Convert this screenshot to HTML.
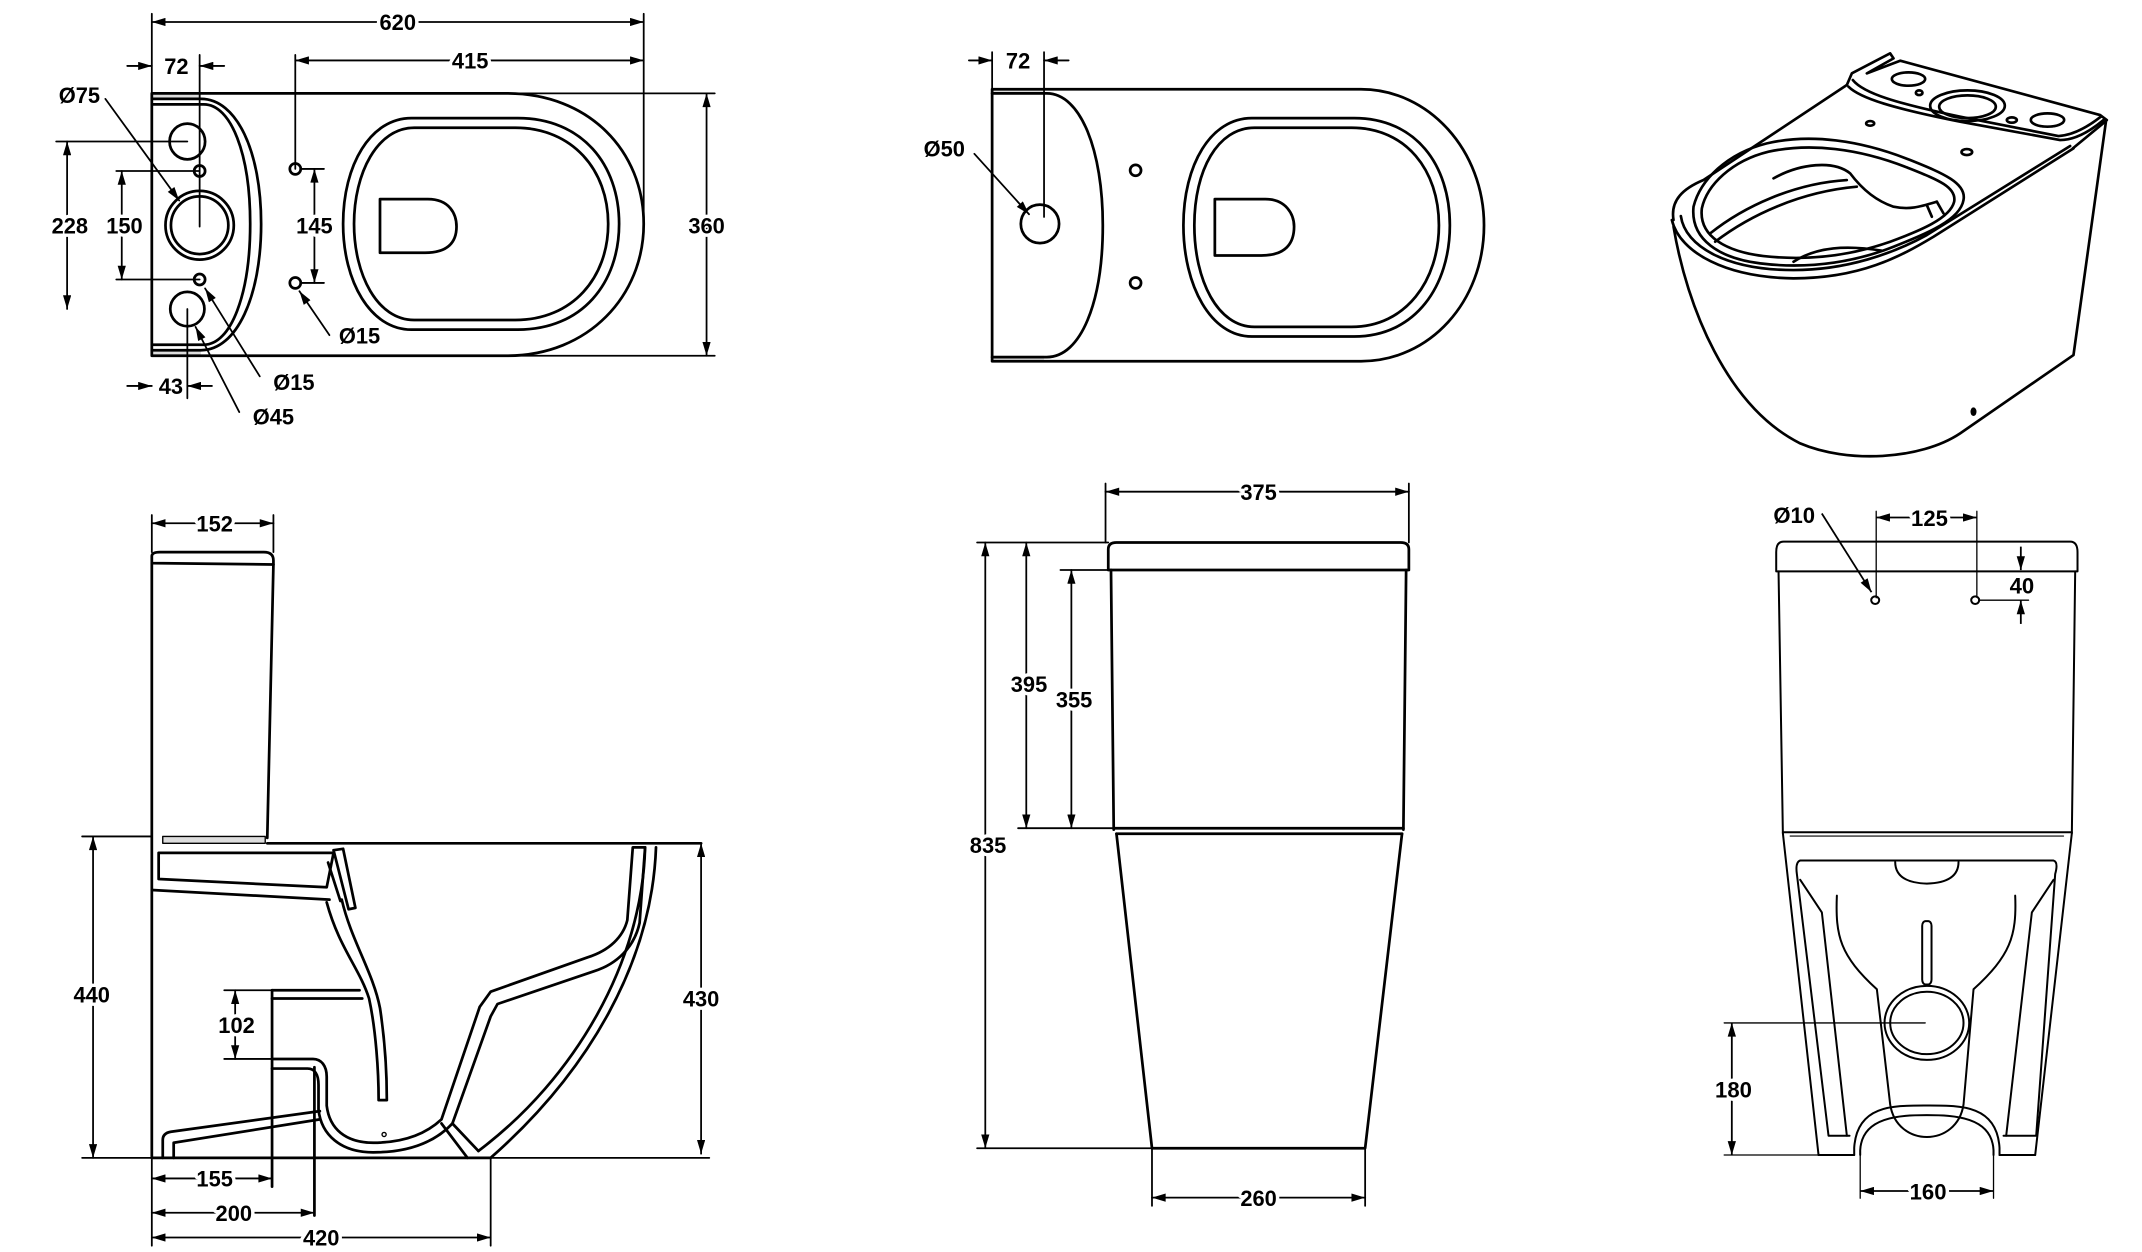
<!DOCTYPE html>
<html><head><meta charset="utf-8">
<style>
html,body{margin:0;padding:0;background:#fff;}
svg{display:block;}
text{font-family:"Liberation Sans",Arial,sans-serif;font-weight:bold;fill:#000;text-anchor:middle;paint-order:stroke;stroke:#fff;stroke-width:5px;stroke-linejoin:round;}
</style></head>
<body>
<svg width="2142" height="1252" viewBox="0 0 1552 907" preserveAspectRatio="none" xmlns="http://www.w3.org/2000/svg">
<defs>
<marker id="a" viewBox="0 0 10 6" refX="10" refY="3" markerWidth="11" markerHeight="6" markerUnits="userSpaceOnUse" orient="auto-start-reverse"><path d="M0,0 L10,3 L0,6 Z" fill="#000"/></marker>
</defs>
<rect width="1552" height="907" fill="#fff"/>

<g transform="translate(1.1,0) scale(0.99,0.995)" fill="none" stroke="#000" stroke-width="2" stroke-linejoin="round" stroke-linecap="round">
<rect x="110" y="68" width="36" height="4" fill="#ddd" stroke="none"/>
<rect x="110" y="255" width="36" height="4" fill="#ddd" stroke="none"/>
<path d="M110,68 H370 C430,68 470,110 470,163 C470,215 430,259 370,259 H110 Z"/>
<path d="M110,72 H146 C172,72 190,110 190,163 C190,216 172,255 146,255 H110"/>
<path d="M110,76 H148 C168,76 182,112 182,163 C182,214 168,251 148,251 H110"/>
<circle cx="136" cy="103" r="13"/>
<circle cx="136" cy="225" r="12.5"/>
<circle cx="145" cy="164" r="25"/>
<circle cx="145" cy="164" r="21"/>
<circle cx="145" cy="124.5" r="4"/>
<circle cx="145" cy="203.5" r="4"/>
<circle cx="215" cy="123" r="4"/>
<circle cx="215" cy="206" r="4"/>
<path d="M300,86 H378 C425,86 452,120 452,163 C452,206 425,240 378,240 H300 C270,240 250,205 250,163 C250,120 270,86 300,86 Z"/>
<path d="M302,93 H376 C418,93 444,124 444,163 C444,202 418,233 376,233 H302 C275,233 258,200 258,163 C258,126 275,93 302,93 Z"/>
<path d="M277,145 H312 C328,145 333,156 333,165 C333,176 327,184 310,184 H277 Z"/>
<g stroke-width="1.3">
<path d="M110,10 V68 M470,10 V160 M215,40 V123 M145,40 V165 M136,225 V290"/>
<path d="M110,16 H470" marker-start="url(#a)" marker-end="url(#a)"/>
<path d="M215,44 H470" marker-start="url(#a)" marker-end="url(#a)"/>
<path d="M92,48 H110" marker-end="url(#a)"/><path d="M163,48 H145" marker-end="url(#a)"/>
<path d="M370,68 H522 M370,259 H522"/>
<path d="M516,68 V259" marker-start="url(#a)" marker-end="url(#a)"/>
<path d="M40,103 H136 M84,124.5 H145 M84,203.5 H145 M219,123 H236 M219,206 H236"/>
<path d="M48,103 V225" marker-start="url(#a)" marker-end="url(#a)"/>
<path d="M88,124.5 V203.5" marker-start="url(#a)" marker-end="url(#a)"/>
<path d="M229,123 V206" marker-start="url(#a)" marker-end="url(#a)"/>
<path d="M92,281 H110" marker-end="url(#a)"/><path d="M154,281 H136" marker-end="url(#a)"/>
<path d="M76,72 L130,146" marker-end="url(#a)"/>
<path d="M189,274 L149,210" marker-end="url(#a)"/>
<path d="M174,300 L142,238" marker-end="url(#a)"/>
<path d="M240,244 L218,212" marker-end="url(#a)"/>
</g>

<rect x="725" y="65" width="38" height="4" fill="#ddd" stroke="none"/>
<rect x="725" y="259" width="38" height="4" fill="#ddd" stroke="none"/>
<path d="M725,65 H995 C1045,65 1085,110 1085,164 C1085,220 1045,263 995,263 H725 Z"/>
<path d="M725,68 H765 C790,68 806,110 806,164 C806,220 790,260 765,260 H725"/>
<circle cx="760" cy="163" r="14"/>
<circle cx="830" cy="124" r="4"/>
<circle cx="830" cy="206" r="4"/>
<path d="M915,86 H990 C1035,86 1060,120 1060,164 C1060,208 1035,245 990,245 H915 C885,245 865,208 865,164 C865,120 885,86 915,86 Z"/>
<path d="M917,93 H988 C1028,93 1052,124 1052,164 C1052,204 1028,238 988,238 H917 C890,238 873,204 873,164 C873,124 890,93 917,93 Z"/>
<path d="M888,145 H925 C940,145 946,156 946,165 C946,177 940,186 922,186 H888 Z"/>
<g stroke-width="1.3">
<path d="M725,38 V65 M763,38 V158"/>
<path d="M708,44 H725" marker-end="url(#a)"/><path d="M781,44 H763" marker-end="url(#a)"/>
<path d="M712,112 L752,156" marker-end="url(#a)"/>
</g>

<path d="M110,410 V405 Q110,402 116,402 H192 Q199,402 199,408 V411 Z"/>
<path d="M110,410 V843 M199,411 L194.5,610"/>
<rect x="118" y="609" width="75" height="5" fill="#ddd" stroke="#000" stroke-width="1"/>
<path d="M194.5,614 H512"/>
<path d="M115,621 H243 L238,646 L115,640 Z"/>
<path d="M110,648 L240,655"/>
<path d="M243,619 L250,618 L259,661 L254,662 Z"/>
<path d="M239,628 L248,656"/>
<path d="M238,657 C247,690 262,705 269,727 C274,750 276,780 276,801 L282,801 C282,785 281,760 277,734 C272,708 256,685 249,655"/>
<path d="M198,721 H262 M198,727 H264"/>
<path d="M198,721 V864 M229,777 V885"/>
<path d="M479,617 C476,700 430,780 358,843"/>
<path d="M471,617 L462,617 L458,670 C455,682 445,692 429,697 L358,722 L350,733 L322,815 C308,828 290,832 272,832 C252,832 240,822 238,805 L238,784 C238,776 234,771 228,771 H198"/>
<path d="M471,617 L467,672 C463,690 450,702 434,707 L363,731 L358,740 L330,818 C314,835 292,839 272,839 C248,839 234,826 232,808 L232,790 C232,782 229,778 224,778 H198"/>
<path d="M471,617 C469,700 420,785 349,838"/>
<path d="M322,818 L341,843 M330,818 L349,838"/>
<path d="M118,843 V830 Q118,825 124,824 L233,809 M126,843 V832 L233,815"/>
<circle cx="280" cy="826" r="1.5" stroke-width="1"/>
<path d="M110,843 H358"/>
<g stroke-width="1.3">
<path d="M110,375 V402 M199,375 V402"/>
<path d="M110,381 H199" marker-start="url(#a)" marker-end="url(#a)"/>
<path d="M59,609 H110 M59,843 H110"/>
<path d="M67,609 V843" marker-start="url(#a)" marker-end="url(#a)"/>
<path d="M358,843 H518"/>
<path d="M512,614 V840" marker-start="url(#a)" marker-end="url(#a)"/>
<path d="M163,721 H198 M163,771 H198"/>
<path d="M171,721 V771" marker-start="url(#a)" marker-end="url(#a)"/>
<path d="M110,843 V907 M358,843 V907"/>
<path d="M110,858 H198" marker-start="url(#a)" marker-end="url(#a)"/>
<path d="M110,883 H229" marker-start="url(#a)" marker-end="url(#a)"/>
<path d="M110,901 H358" marker-start="url(#a)" marker-end="url(#a)"/>
</g>

<path d="M810,415 V400 Q810,395 816,395 H1024 Q1030,395 1030,400 V415 Z"/>
<path d="M812,415 L814,604 M1028,415 L1026,604"/>
<path d="M814,603 H1026"/>
<path d="M816,607 H1025"/>
<path d="M816,607 L842,836 H998 L1025,607"/>
<g stroke-width="1.3">
<path d="M808,352 V395 M1030,352 V395"/>
<path d="M808,358 H1030" marker-start="url(#a)" marker-end="url(#a)"/>
<path d="M714,395 H810 M714,836 H842 M775,415 H812 M744,603 H814"/>
<path d="M720,395 V836" marker-start="url(#a)" marker-end="url(#a)"/>
<path d="M750,395 V603" marker-start="url(#a)" marker-end="url(#a)"/>
<path d="M783,415 V603" marker-start="url(#a)" marker-end="url(#a)"/>
<path d="M842,836 V878 M998,836 V878"/>
<path d="M842,872 H998" marker-start="url(#a)" marker-end="url(#a)"/>
</g>

<g stroke="#fff" stroke-width="5" font-size="16">
<text x="290" y="22">620</text>
<text x="343" y="50">415</text>
<text x="128" y="54">72</text>
<text x="57" y="75">Ø75</text>
<text x="50" y="170">228</text>
<text x="90" y="170">150</text>
<text x="229" y="170">145</text>
<text x="516" y="170">360</text>
<text x="262" y="250">Ø15</text>
<text x="214" y="284">Ø15</text>
<text x="124" y="287">43</text>
<text x="199" y="309">Ø45</text>
<text x="744" y="50">72</text>
<text x="690" y="114">Ø50</text>
<text x="156" y="387">152</text>
<text x="66" y="730">440</text>
<text x="512" y="733">430</text>
<text x="172" y="752">102</text>
<text x="156" y="864">155</text>
<text x="170" y="889">200</text>
<text x="234" y="907">420</text>
<text x="920" y="364">375</text>
<text x="752" y="504">395</text>
<text x="785" y="515">355</text>
<text x="722" y="621">835</text>
<text x="920" y="878">260</text>
</g>
</g>

<g transform="translate(1202.9,29) scale(0.2415)" fill="none" stroke="#000" stroke-width="8" stroke-linejoin="round" stroke-linecap="round">
<path d="M40,560 C80,800 200,1100 420,1210 C560,1270 780,1260 900,1180 L1240,945 L1338,240"/>
<path d="M40,540 C30,480 70,445 130,420 L560,135"/>
<path d="M560,135 L575,100 L690,40 L700,55 L620,100 L720,62 L1320,225 L1340,240"/>
<path d="M565,140 C600,175 700,205 900,245 L1200,300 C1250,300 1300,265 1330,240"/>
<path d="M578,120 C610,160 710,190 900,230 L1195,288 C1245,285 1290,255 1322,230"/>
<path d="M1238,325 L1335,245"/>
<path d="M35,540 C60,640 200,712 400,715 C600,715 720,650 820,590 L1240,325"/>
<path d="M62,528 C75,620 200,690 400,690 C560,690 700,640 800,585 L1230,318"/>
<path d="M100,500 C120,420 200,340 320,310 C450,280 600,300 750,360 C850,400 920,430 910,480 C900,540 800,580 700,620 C600,660 460,690 300,670 C180,655 90,600 100,500 Z"/>
<path d="M125,505 C140,435 215,362 325,335 C450,308 595,325 740,382 C830,418 890,440 882,485 C870,535 780,572 690,605 C590,640 460,665 310,648 C200,635 115,590 125,505 Z"/>
<path d="M340,415 C420,370 520,360 570,400 C600,440 640,480 700,500 C750,510 780,500 830,485"/>
<path d="M150,580 C250,500 400,430 560,420 M165,605 C270,525 420,455 590,440"/>
<path d="M400,665 C470,620 560,615 665,632"/>
<path d="M800,495 L815,530 M830,485 L850,520"/>
<ellipse cx="745" cy="117" rx="50" ry="20"/>
<ellipse cx="777" cy="158" rx="10" ry="7"/>
<ellipse cx="922" cy="197" rx="112" ry="46"/>
<ellipse cx="922" cy="200" rx="85" ry="34"/>
<ellipse cx="1055" cy="240" rx="15" ry="8"/>
<ellipse cx="1162" cy="240" rx="50" ry="20"/>
<ellipse cx="630" cy="250" rx="12" ry="7"/>
<ellipse cx="920" cy="336" rx="16" ry="9"/>
<ellipse cx="940" cy="1115" rx="5" ry="9" fill="#000"/>
</g>

<g transform="translate(1231.9,347.8) scale(0.2415,0.348)" fill="none" stroke="#000" stroke-width="2" stroke-linejoin="round" stroke-linecap="round">
<path vector-effect="non-scaling-stroke" d="M228,190 V150 Q228,128 250,128 H1110 Q1132,128 1132,150 V190 Z"/>
<path vector-effect="non-scaling-stroke" d="M235,190 L248,735 M1125,190 L1115,735"/>
<path vector-effect="non-scaling-stroke" d="M248,733 H1115"/>
<path vector-effect="non-scaling-stroke" d="M270,741 H1090" stroke-width="1.2"/>
<path vector-effect="non-scaling-stroke" d="M248,735 L355,1405 M1115,735 L1005,1405"/>
<path vector-effect="non-scaling-stroke" d="M300,792 H1060 Q1075,795 1065,820 L1008,1365 H910"/>
<path vector-effect="non-scaling-stroke" d="M300,792 Q285,795 290,820 L385,1365 H448"/>
<path vector-effect="non-scaling-stroke" d="M300,832 L365,900 L440,1365 M1060,832 L995,900 L918,1365"/>
<path vector-effect="non-scaling-stroke" d="M410,865 C405,950 420,990 530,1060 L570,1300 C590,1390 770,1390 790,1300 L820,1060 C930,990 950,950 945,865"/>
<path vector-effect="non-scaling-stroke" d="M585,795 Q585,838 680,840 Q775,838 775,795"/>
<rect vector-effect="non-scaling-stroke" x="666" y="918" width="28" height="132" rx="10"/>
<ellipse vector-effect="non-scaling-stroke" cx="680" cy="1130" rx="127" ry="77"/>
<ellipse vector-effect="non-scaling-stroke" cx="680" cy="1130" rx="110" ry="65"/>
<path vector-effect="non-scaling-stroke" d="M462,1405 V1390 C470,1300 580,1302 680,1302 C780,1302 890,1300 898,1390 V1405"/>
<path vector-effect="non-scaling-stroke" d="M480,1405 V1395 C485,1325 600,1322 680,1322 C760,1322 875,1325 880,1395 V1405"/>
<path vector-effect="non-scaling-stroke" d="M355,1405 H462 M898,1405 H1005"/>
<ellipse vector-effect="non-scaling-stroke" cx="525" cy="250" rx="12" ry="8"/>
<ellipse vector-effect="non-scaling-stroke" cx="825" cy="250" rx="12" ry="8"/>
<g stroke-width="1.3">
<path vector-effect="non-scaling-stroke" d="M528,65 V245 M830,65 V244"/>
<path vector-effect="non-scaling-stroke" d="M836,250 H985"/>
<path vector-effect="non-scaling-stroke" d="M72,1130 H675 M72,1405 H355"/>
<path vector-effect="non-scaling-stroke" d="M480,1405 V1495 M880,1405 V1495"/>
</g>
</g>
<g fill="none" stroke="#000" stroke-width="1.3">
<path d="M1359.4,374.9 H1432.3" marker-start="url(#a)" marker-end="url(#a)"/>
<path d="M1320,372 L1356,429" marker-end="url(#a)"/>
<path d="M1464.2,396 V413" marker-end="url(#a)"/>
<path d="M1464.2,452 V435" marker-end="url(#a)"/>
<path d="M1254.8,741 V836.7" marker-start="url(#a)" marker-end="url(#a)"/>
<path d="M1347.8,862.8 H1444.4" marker-start="url(#a)" marker-end="url(#a)"/>
</g>
<g stroke="#fff" stroke-width="5" font-size="16">
<text x="1300" y="379">Ø10</text>
<text x="1398" y="381">125</text>
<text x="1465" y="430">40</text>
<text x="1256" y="795">180</text>
<text x="1397" y="869">160</text>
</g>
</svg>
</body></html>
